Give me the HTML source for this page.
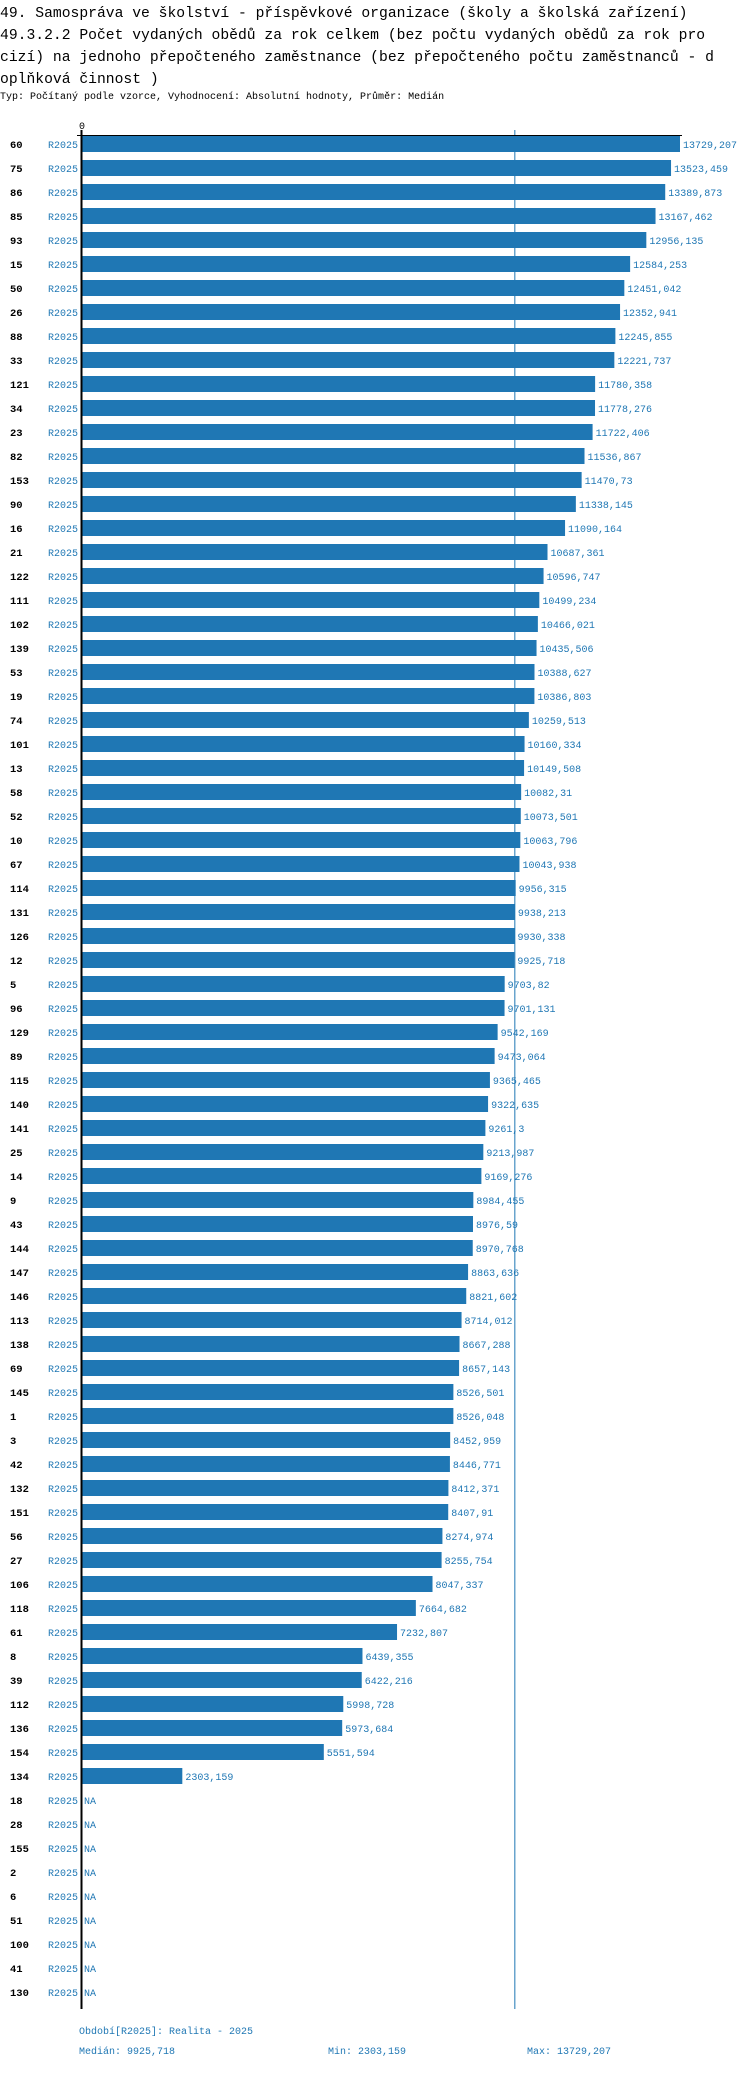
<!DOCTYPE html>
<html><head><meta charset="utf-8">
<style>
body{margin:0;background:#fff;width:750px;height:2068px;overflow:hidden}
.t{font-family:"Liberation Mono",monospace;font-size:14.7px;fill:#000}
.s{font-family:"Liberation Mono",monospace;font-size:10px;fill:#000}
.lab{font-family:"Liberation Mono",monospace;font-size:10.5px;font-weight:bold;fill:#000}
.b{font-family:"Liberation Mono",monospace;font-size:10px;fill:#1f77b4}
</style></head><body>
<svg id="chart" width="750" height="2068" xmlns="http://www.w3.org/2000/svg">
<text class="t" x="0" y="17">49. Samospráva ve školství - příspěvkové organizace (školy a školská zařízení)</text>
<text class="t" x="0" y="39">49.3.2.2 Počet vydaných obědů za rok celkem (bez počtu vydaných obědů za rok pro</text>
<text class="t" x="0" y="61">cizí) na jednoho přepočteného zaměstnance (bez přepočteného počtu zaměstnanců - d</text>
<text class="t" x="0" y="83">oplňková činnost )</text>
<text class="s" x="0" y="99">Typ: Počítaný podle vzorce, Vyhodnocení: Absolutní hodnoty, Průměr: Medián</text>
<g id="plot"></g>
<text class="b" x="79" y="2034">Období[R2025]: Realita - 2025</text>
<text class="b" x="79" y="2054">Medián: 9925,718</text>
<text class="b" x="328" y="2054">Min: 2303,159</text>
<text class="b" x="527" y="2054">Max: 13729,207</text>
</svg>
<script>
const categories=["60","75","86","85","93","15","50","26","88","33","121","34","23","82","153","90","16","21","122","111","102","139","53","19","74","101","13","58","52","10","67","114","131","126","12","5","96","129","89","115","140","141","25","14","9","43","144","147","146","113","138","69","145","1","3","42","132","151","56","27","106","118","61","8","39","112","136","154","134","18","28","155","2","6","51","100","41","130"];
const values=[13729.207,13523.459,13389.873,13167.462,12956.135,12584.253,12451.042,12352.941,12245.855,12221.737,11780.358,11778.276,11722.406,11536.867,11470.73,11338.145,11090.164,10687.361,10596.747,10499.234,10466.021,10435.506,10388.627,10386.803,10259.513,10160.334,10149.508,10082.31,10073.501,10063.796,10043.938,9956.315,9938.213,9930.338,9925.718,9703.82,9701.131,9542.169,9473.064,9365.465,9322.635,9261.3,9213.987,9169.276,8984.455,8976.59,8970.768,8863.636,8821.602,8714.012,8667.288,8657.143,8526.501,8526.048,8452.959,8446.771,8412.371,8407.91,8274.974,8255.754,8047.337,7664.682,7232.807,6439.355,6422.216,5998.728,5973.684,5551.594,2303.159,null,null,null,null,null,null,null,null,null];
const seriesName="R2025";
const medianValue=9925.718;

const NS="http://www.w3.org/2000/svg";
const plotG=document.getElementById('plot');
const x0=82, plotTop=136, pitch=24, barH=16;
const maxV=Math.max(...values.filter(v=>v!==null));
const scaleK=598/maxV;
const xs=v=>x0+v*scaleK;
const ys=i=>plotTop+i*pitch;
const plotBottom=ys(categories.length)+1;
function mk(tag,attrs){const e=document.createElementNS(NS,tag);for(const k in attrs)e.setAttribute(k,attrs[k]);plotG.appendChild(e);return e;}
function fmt(v){return v.toFixed(3).replace(/\.?0+$/,'').replace('.',',');}

const ml=mk('line',{x1:xs(medianValue)+0.5,x2:xs(medianValue)+0.5,y1:130,y2:plotBottom,stroke:'#1f77b4','stroke-width':1});



categories.forEach((c,i)=>{
  const y=ys(i), cy=y+barH/2;
  const t=mk('text',{x:10,y:cy+4,class:'lab'});t.textContent=c;
  
  
  const s=mk('text',{x:48,y:cy+4,class:'b'});s.textContent=seriesName;
  
  
  const v=values[i];
  if(v!==null){
    const r=mk('rect',{x:x0,y:y,width:xs(v)-x0,height:barH,fill:'#1f77b4'});
    
    
    const vl=mk('text',{x:xs(v)+3,y:cy+4,class:'b'});vl.textContent=fmt(v);
    
    
  } else {
    const vl=mk('text',{x:x0+2,y:cy+4,class:'b'});vl.textContent='NA';
    
    
  }
});
const ax=mk('line',{x1:x0-5,x2:xs(maxV)+2,y1:135.5,y2:135.5,stroke:'#000','stroke-width':1});


const ay=mk('line',{x1:x0-0.5,x2:x0-0.5,y1:130,y2:plotBottom,stroke:'#000','stroke-width':2});


const z=mk('text',{x:x0-3,y:129,class:'s'});z.textContent='0';


</script>
</body></html>
